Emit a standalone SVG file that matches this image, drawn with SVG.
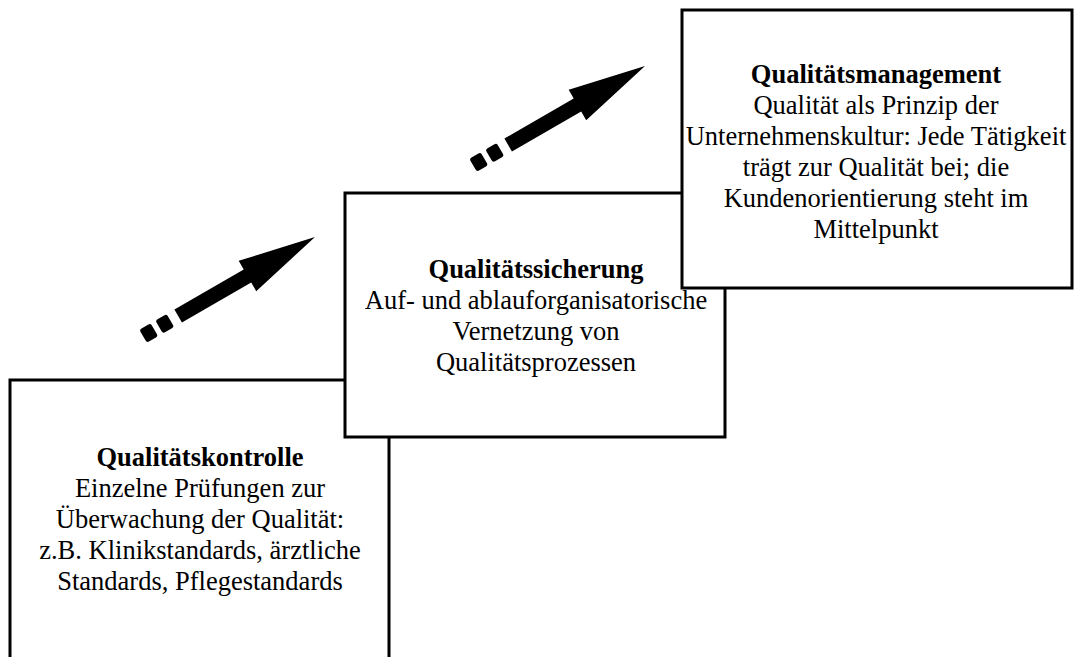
<svg xmlns="http://www.w3.org/2000/svg" width="1078" height="657" viewBox="0 0 1078 657">
<style>
.box{fill:#fff;stroke:#000;stroke-width:3}
text{font-family:"Liberation Serif","Times New Roman",serif;font-size:26.5px;text-anchor:middle;fill:#000}
.b{font-weight:bold}
</style>
<defs>
<g id="arrow">
<path d="M0,0 L-78,-17.5 L-78,-7.5 L-158,-7.5 L-158,7.5 L-78,7.5 L-78,17.5 Z" fill="#000"/>
<rect x="-180" y="-7.5" width="13" height="15" rx="2.5" fill="#000"/>
<rect x="-198.5" y="-7.5" width="13" height="15" rx="2.5" fill="#000"/>
</g>
</defs>
<rect width="1078" height="657" fill="#fff"/>
<g id="connectors">
<use href="#arrow" transform="translate(315,237) rotate(-30)"/>
<use href="#arrow" transform="translate(645,66) rotate(-30)"/>
</g>
<g id="node-kontrolle">
<rect class="box" x="10" y="380" width="379" height="320"/>
<text x="200" y="466" class="b">Qualitätskontrolle</text>
<text x="200" y="497">Einzelne Prüfungen zur</text>
<text x="200" y="528">Überwachung der Qualität:</text>
<text x="200" y="559">z.B. Klinikstandards, ärztliche</text>
<text x="200" y="590">Standards, Pflegestandards</text>
</g>
<g id="node-sicherung">
<rect class="box" x="345" y="193" width="380" height="244"/>
<text x="536" y="278" class="b">Qualitätssicherung</text>
<text x="536" y="309">Auf- und ablauforganisatorische</text>
<text x="536" y="340">Vernetzung von</text>
<text x="536" y="371">Qualitätsprozessen</text>
</g>
<g id="node-management">
<rect class="box" x="682" y="10" width="390" height="278"/>
<text x="876" y="83" class="b">Qualitätsmanagement</text>
<text x="876" y="114">Qualität als Prinzip der</text>
<text x="876" y="145">Unternehmenskultur: Jede Tätigkeit</text>
<text x="876" y="176">trägt zur Qualität bei; die</text>
<text x="876" y="207">Kundenorientierung steht im</text>
<text x="876" y="238">Mittelpunkt</text>
</g>
</svg>
